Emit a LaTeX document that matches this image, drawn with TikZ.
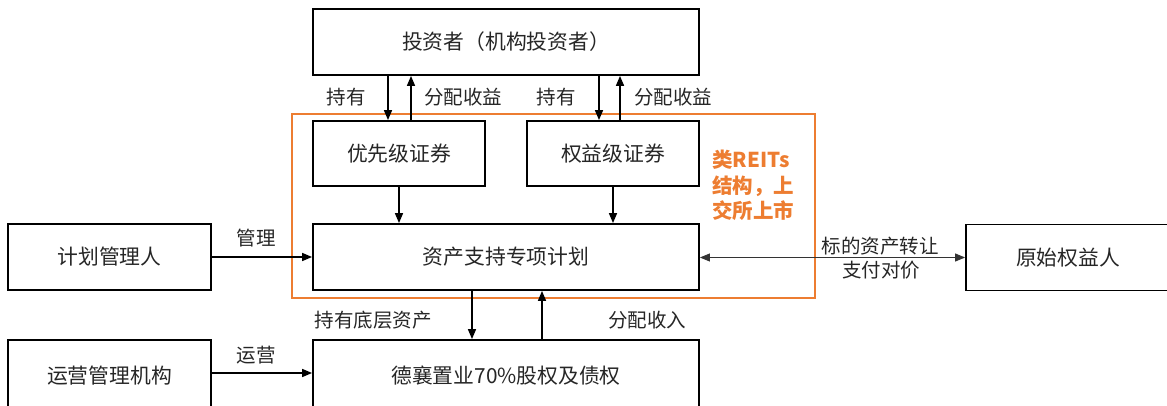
\documentclass[tikz,border=0pt]{standalone}
\usepackage{fontspec}
\setmainfont{Noto Sans CJK SC}
\usetikzlibrary{arrows.meta,calc}
\definecolor{orng}{HTML}{ED7D31}
\begin{document}
\begin{tikzpicture}[x=1pt,y=-1pt,
  box/.style={draw=black,line width=1.8pt,inner sep=0pt,font=\fontsize{20.8}{24}\selectfont,text=black!85},
  lbl/.style={inner sep=0pt,font=\fontsize{19.5}{22}\selectfont,text=black!85},
  arr/.style={line width=1.6pt,-{Triangle[length=10pt,width=8pt]}},
  darr/.style={line width=0.9pt,draw=black!80,{Triangle[length=10pt,width=8pt]}-{Triangle[length=10pt,width=8pt]}}]
\useasboundingbox (0,0) rectangle (1167,406);
% orange frame
\node[draw=orng,line width=2pt,minimum width=523pt,minimum height=184pt,inner sep=0pt] (frame) at (553.5,206) {};
% boxes
\node[box,minimum width=386pt,minimum height=66pt] (inv) at (506,42) {投资者（机构投资者）};
\node[box,minimum width=172pt,minimum height=65pt] (pri) at (399,153.5) {优先级证券};
\node[box,minimum width=172pt,minimum height=65pt] (eq) at (613,153.5) {权益级证券};
\node[box,minimum width=386pt,minimum height=66pt] (abs) at (506,257) {资产支持专项计划};
\node[box,minimum width=386pt,minimum height=72pt] (dx) at (506,376) {德襄置业70\%股权及债权};
\node[box,minimum width=203pt,minimum height=66pt] (mgr) at (109.5,257) {计划管理人};
\node[box,minimum width=203pt,minimum height=72pt] (ops) at (109.5,376) {运营管理机构};
\node[box,minimum width=204pt,minimum height=66pt] (orig) at (1068,257.5) {原始权益人};
% orange text
\node[anchor=north west,inner sep=0pt,align=left,text=orng,font=\fontsize{20.5}{25.5}\selectfont\bfseries] (reits) at (712,150) {类REITs\\结构，上\\交所上市};
% arrows investor <-> securities
\draw[arr] ([xshift=-118pt]inv.south) -- ([xshift=-11pt]pri.north);
\draw[arr] ([xshift=12pt]pri.north) -- ([xshift=-95pt]inv.south);
\draw[arr] ([xshift=93pt]inv.south) -- ([xshift=-14pt]eq.north);
\draw[arr] ([xshift=7pt]eq.north) -- ([xshift=114pt]inv.south);
\node[lbl] (l1) at (346,97) {持有};
\node[lbl] (l2) at (463,97) {分配收益};
\node[lbl] (l3) at (556,97) {持有};
\node[lbl] (l4) at (673,97) {分配收益};
% securities -> abs
\draw[arr] (pri.south) -- (pri.south |- abs.north);
\draw[arr] (eq.south) -- (eq.south |- abs.north);
% abs <-> dx
\draw[arr] ([xshift=-34pt]abs.south) -- ([xshift=-34pt]dx.north);
\draw[arr] ([xshift=36pt]dx.north) -- ([xshift=36pt]abs.south);
\node[lbl] (l5) at (373,320) {持有底层资产};
\node[lbl] (l6) at (647,320) {分配收入};
% left arrows
\draw[arr] (mgr.east) -- (abs.west);
\node[lbl] (l7) at (256,238) {管理};
\draw[arr] (mgr.east |- 0,373) -- (dx.west |- 0,373);
\node[lbl] (l8) at (256,355) {运营};
% double arrow
\draw[darr] (abs.east |- orig.west) -- (orig.west);
\node[lbl] (l9) at (880,246) {标的资产转让};
\node[lbl] (l10) at (881,270) {支付对价};
\end{tikzpicture}
\end{document}
